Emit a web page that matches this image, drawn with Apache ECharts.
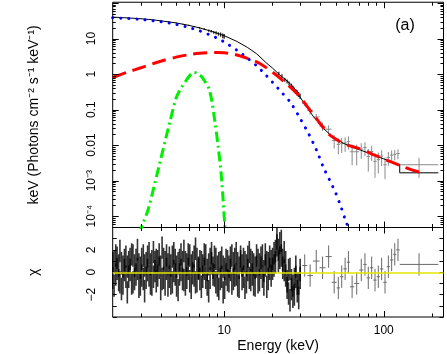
<!DOCTYPE html>
<html><head><meta charset="utf-8">
<script src="https://cdn.jsdelivr.net/npm/echarts@6/dist/echarts.min.js"></script>
<style>html,body{margin:0;padding:0;background:#fff}#c{width:447px;height:354px}</style>
</head><body><div id="c"></div>
<script>
// ---------- data ----------
// model components (E in keV, E*F_E)
const blueE = [2,2.5,3,3.5,4,5,6,7,8,9,10,12,14,16,18,20,23,26,30,34,38,42,46,50,54,58,61];
const blueV = [38.5,36.5,34.5,32,29.8,25,20.5,16.5,13,10.3,8,4.7,2.8,1.7,1.0,0.6,0.3,0.16,0.055,0.02,0.007,0.0023,0.001,0.00045,0.00018,0.00007,0.00004];
const redE = [2,2.5,3,3.5,4,5,6,7,8,9,10,11,12,14,16,18,20,22,25,28,30,33,36,40,45,53,60,68,78,86,104,126,150,175];
const redV = [0.8,1.15,1.5,1.9,2.3,3.0,3.5,3.85,4.0,4.05,3.95,3.75,3.45,2.75,2.2,1.6,1.15,0.82,0.5,0.31,0.22,0.125,0.075,0.04,0.021,0.0126,0.0098,0.0084,0.0066,0.0054,0.0038,0.0027,0.002,0.00165];
const greenE = [2.95,3.04,3.33,3.95,4.57,5.03,5.4,5.8,6.1,6.46,6.8,7.2,7.57,8.0,8.34,8.74,9.17,9.64,10.1,10.3];
const greenV = [3e-5,5e-5,1.5e-4,3.2e-3,0.046,0.23,0.42,0.68,0.92,1.12,1.02,0.85,0.62,0.4,0.19,0.046,0.009,0.00107,5e-5,2e-5];
const modelE = [2,2.5,3,3.5,4,5,6,7,8,9,10,12,14,16,18.5,20,22.3,24,25.8,28,29.8,32.8,36.2,41.7,46,50,55.6,63,70.7,80,90.5,100,112,126,126,220];
const modelV = [40,38,36,34,31.5,27.5,23.5,20,16.8,14.2,12,8.3,5.6,3.7,2.0,1.5,0.94,0.72,0.55,0.36,0.23,0.12,0.064,0.03,0.02,0.0155,0.0114,0.0088,0.0074,0.006,0.0048,0.0041,0.0034,0.0028,0.00166,0.00166];

// low-energy spectral points (top panel)
const lowDE = [2.0,2.5,3,3.5,4,4.5,5,5.5,6,6.5,7,7.5,8,8.3,8.6,8.9,9.2,9.5,9.8,10.0,22,23,24,24.8,25.5,26.4,27,27.5,28.1,28.7,29.3,29.9];
const lowDV = [40.5,38,36,34,31.5,29.5,27.5,25.5,23.5,21.8,20,18.5,16.8,16,15,14.5,13.5,13,12,11.6,1.05,0.88,0.7,0.62,0.55,0.47,0.41,0.37,0.33,0.3,0.27,0.24];
const lowDErr = [0.5,0.5,0.5,0.5,0.6,0.6,0.7,0.7,0.8,0.9,1,1.1,1.2,1.3,1.4,1.5,1.6,1.7,1.8,1.8,0.12,0.1,0.09,0.08,0.07,0.06,0.06,0.05,0.05,0.05,0.045,0.04];

// high-energy bins (top panel + residuals)
const highLo = [30.8,33.2,36.0,39.6,43.2,47.2,50.7,53.2,55.9,58.7,61.5,65.3,70.2,74.5,78.1,82.0,86.1,90.3,94.7,99.4,104.4,109.5,114.8,119.8,126];
const highHi = [33.2,36.0,39.6,43.2,47.2,50.7,53.2,55.9,58.7,61.5,65.3,70.2,74.5,78.1,82.0,86.1,90.3,94.7,99.4,104.4,109.5,114.8,119.8,126,220];
const highFlux = [0.15,0.093,0.062,0.034,0.028,0.0135,0.0105,0.011,0.0115,0.0125,0.0065,0.0065,0.0077,0.0085,0.0048,0.0066,0.0035,0.0039,0.0049,0.0028,0.0045,0.0052,0.0055,0.0058,0.0028];
const highErr = [0.025,0.02,0.014,0.009,0.008,0.0055,0.005,0.005,0.005,0.005,0.0038,0.0038,0.0036,0.0036,0.003,0.003,0.0023,0.0023,0.0023,0.0017,0.0019,0.0019,0.0018,0.0018,0.0016];
const highChi = [0.6,-0.3,1.0,0.4,1.4,-0.9,-1.4,-0.4,0.3,0.9,-1.3,-1.0,0.2,0.7,-0.5,0.4,-0.7,-0.4,0.3,-0.9,0.5,1.1,1.6,2.0,0.7];

// dense residuals 2-30 keV (delta chi, error = 1), two interleaved sets
const resE = [2.00,2.04,2.09,2.13,2.18,2.22,2.27,2.32,2.37,2.42,
 2.47,2.52,2.57,2.63,2.68,2.74,2.80,2.86,2.92,2.98,
 3.04,3.11,3.17,3.24,3.31,3.38,3.45,3.52,3.60,3.68,
 3.75,3.83,3.91,4.00,4.08,4.17,4.26,4.35,4.44,4.53,
 4.63,4.73,4.83,4.93,5.03,5.14,5.25,5.36,5.48,5.59,
 5.71,5.83,5.95,6.08,6.21,6.34,6.48,6.61,6.75,6.90,
 7.04,7.19,7.34,7.50,7.66,7.82,7.99,8.16,8.33,8.51,
 8.69,8.87,9.06,9.25,9.45,9.65,9.85,10.06,10.27,10.49,
 10.71,10.94,11.17,11.41,11.65,11.89,12.15,12.40,12.67,12.94,
 13.21,13.49,13.78,14.07,14.37,14.67,14.98,15.30,15.62,15.96,
 16.30,16.64,17.00,17.36,17.73,18.10,18.49,18.88,19.28,19.69,
 20.10,20.53,20.96,21.41,21.86,22.32,22.80,23.28,23.77,24.28,
 24.79,25.32,25.85,26.40,26.96,27.53,28.12,28.71,29.32,29.94];
const resChi = [0.8,-1.2,1.5,0.3,-0.7,1.9,-1.5,0.5,1.1,-0.4,
 -1.8,0.9,0.2,1.6,-0.9,0.6,-0.2,2.0,-1.3,0.4,
 1.2,-0.6,-1.7,0.8,1.4,-0.3,0.7,-1.1,1.8,0.1,
 -0.8,1.0,0.4,-1.5,2.2,-0.5,0.9,0.3,-1.2,1.3,
 0.6,-0.9,1.7,-0.2,0.5,-1.6,1.1,0.2,-0.6,1.9,
 -1.1,0.7,0.3,1.5,-1.4,0.9,-0.3,2.1,-0.8,0.4,
 1.0,-1.3,0.6,1.6,-0.5,0.2,-1.7,1.2,0.8,-0.2,
 1.4,-0.9,0.5,-1.5,0.9,-0.4,-1.8,0.3,1.1,-0.7,
 0.5,1.3,-1.0,0.8,-0.3,1.7,-1.2,0.4,1.0,-0.6,
 1.2,-1.4,0.6,0.2,1.8,-0.7,0.9,-1.1,0.4,1.5,
 -0.9,0.7,1.3,-0.4,0.1,1.6,-1.3,0.8,0.3,1.0,
 1.2,0.6,1.9,2.4,1.0,2.6,1.5,0.4,1.8,-0.3,
 -0.8,-1.9,0.3,-1.5,-2.2,-0.6,0.5,-1.7,-1.0,0.2];
const resChi2 = [-0.5,0.9,-0.2,1.3,0.6,-0.9,0.8,-1.0,0.2,1.4,
 0.5,-0.4,1.2,-1.0,1.5,-0.6,1.1,0.3,0.7,-1.1,
 -0.3,1.5,0.6,-0.5,0.2,1.7,-1.0,1.0,-0.4,0.9,
 1.1,-0.3,1.6,0.5,-0.6,1.2,-1.1,1.5,0.7,-0.4,
 -1.0,1.4,0.1,1.1,-1.2,0.8,-0.2,1.6,0.9,-0.7,
 0.9,-0.5,1.6,-0.8,0.6,-0.1,1.4,-0.9,1.2,0.3,
 -0.6,0.9,-0.4,0.3,1.5,-1.1,0.7,-0.5,1.7,0.4,
 -0.3,1.2,-1.2,0.8,-0.6,1.3,0.5,-1.4,-0.2,1.0,
 -0.8,0.2,1.5,-0.6,1.2,-0.2,0.8,-1.3,1.4,0.6,
 -0.4,0.9,-0.9,1.4,-0.5,1.1,-0.2,0.7,-1.2,0.5,
 1.1,-0.7,0.4,1.5,-1.1,0.6,0.9,-0.6,1.4,-0.3,
 0.3,1.7,0.9,3.0,2.0,1.3,2.8,1.1,0.2,0.9,
 -1.4,0.2,-2.5,-0.7,-1.2,-2.0,-0.4,-1.0,-2.3,-0.5];

// ticks
const xMajorTicks = [10, 100];
const xMinorTicks = [3,4,5,6,7,8,9,20,30,40,50,60,70,80,90,200];
const yMajorTop = [1e-4,1e-3,0.01,0.1,1,10,100];
const yMantissas = [2,3,4,5,6,7,8,9];
const yDecades = [1e-5,1e-4,1e-3,0.01,0.1,1,10];
const X_MIN = 2, X_MAX = 237, Y_MIN = 4.8e-5, Y_MAX = 105;

// ---------- chart ----------
const FONT = 'Liberation Sans, Arial, Helvetica, sans-serif';
const pair = (xs, ys) => xs.map((x, i) => [x, ys[i]]);

function errRender(color, width) {
  return function (params, api) {
    const lo = api.value(0), hi = api.value(1), v = api.value(2), vlo = api.value(3), vhi = api.value(4);
    const xc = Math.sqrt(lo * hi);
    const t = api.coord([xc, vhi]), d = api.coord([xc, vlo]);
    const ch = [{type: 'line', shape: {x1: t[0], y1: t[1], x2: d[0], y2: d[1]}, style: {stroke: color, lineWidth: width}}];
    if (hi > lo) {
      const a = api.coord([lo, v]), b = api.coord([hi, v]);
      ch.push({type: 'line', shape: {x1: a[0], y1: a[1], x2: b[0], y2: b[1]}, style: {stroke: color, lineWidth: width}});
    }
    return {type: 'group', children: ch};
  };
}

function xTicks(gi, yi, yRef) {
  const data = xMajorTicks.map(v => [v, yRef, 1]).concat(xMinorTicks.map(v => [v, yRef, 0]));
  return {
    type: 'custom', xAxisIndex: gi, yAxisIndex: yi, data, encode: {x: 0, y: 1}, silent: true, z: 20,
    renderItem(params, api) {
      const cs = params.coordSys;
      const x = Math.round(api.coord([api.value(0), api.value(1)])[0]) + 0.5;
      const L = api.value(2) ? 6 : 3.5;
      const b = cs.y + cs.height;
      return {type: 'group', children: [
        {type: 'line', shape: {x1: x, y1: cs.y, x2: x, y2: cs.y + L}, style: {stroke: '#000', lineWidth: 1}},
        {type: 'line', shape: {x1: x, y1: b, x2: x, y2: b - L}, style: {stroke: '#000', lineWidth: 1}}
      ]};
    }
  };
}

const yMinorTop = [];
yDecades.forEach(d => yMantissas.forEach(m => { const v = d * m; if (v > Y_MIN && v < Y_MAX) yMinorTop.push(v); }));

const yTicksTop = {
  type: 'custom', xAxisIndex: 0, yAxisIndex: 0, silent: true, z: 20, encode: {x: 0, y: 1},
  data: yMajorTop.filter(v => v < Y_MAX).map(v => [10, v, 1]).concat(yMinorTop.map(v => [10, v, 0])),
  renderItem(params, api) {
    const cs = params.coordSys;
    const y = Math.round(api.coord([api.value(0), api.value(1)])[1]) + 0.5;
    const L = api.value(2) ? 6 : 3;
    const r = cs.x + cs.width;
    return {type: 'group', children: [
      {type: 'line', shape: {x1: cs.x, y1: y, x2: cs.x + L, y2: y}, style: {stroke: '#000', lineWidth: 1}},
      {type: 'line', shape: {x1: r, y1: y, x2: r - L, y2: y}, style: {stroke: '#000', lineWidth: 1}}
    ]};
  }
};

function logLabel(v) {
  const e = Math.round(Math.log10(v));
  if (Math.abs(v / Math.pow(10, e) - 1) > 1e-6) return '';
  const map = {'1': '10', '0': '1', '-1': '0.1', '-2': '0.01', '-3': '10\u207B\u00B3', '-4': '10\u207B\u2074'};
  return map[String(e)] || '';
}

const chart = echarts.init(document.getElementById('c'), null, {renderer: 'canvas'});
chart.setOption({
  animation: false,
  backgroundColor: '#fff',
  textStyle: {fontFamily: FONT, color: '#000'},
  grid: [
    {left: 112.7, top: 2, width: 330.8, height: 225.5, show: true, borderColor: '#000', borderWidth: 1},
    {left: 112.7, top: 227.5, width: 330.8, height: 89.5, show: true, borderColor: '#000', borderWidth: 1}
  ],
  xAxis: [
    {gridIndex: 0, type: 'log', logBase: 10, min: X_MIN, max: X_MAX,
      axisLine: {show: false, onZero: false}, axisTick: {show: false}, axisLabel: {show: false}, splitLine: {show: false}},
    {gridIndex: 1, type: 'log', logBase: 10, min: X_MIN, max: X_MAX,
      axisLine: {show: false, onZero: false}, axisTick: {show: false}, splitLine: {show: false},
      axisLabel: {show: true, margin: 8, fontSize: 12, color: '#000', fontFamily: FONT, showMinLabel: false, showMaxLabel: false,
        formatter: v => (Math.abs(v - 10) < 1e-6 ? '10' : Math.abs(v - 100) < 1e-6 ? '100' : '')},
      name: 'Energy (keV)', nameLocation: 'middle', nameGap: 22,
      nameTextStyle: {fontSize: 14, color: '#000', fontFamily: FONT}}
  ],
  yAxis: [
    {gridIndex: 0, type: 'log', logBase: 10, min: Y_MIN, max: Y_MAX,
      axisLine: {show: false}, axisTick: {show: false}, splitLine: {show: false},
      axisLabel: {rotate: 90, margin: 15, fontSize: 12, color: '#000', fontFamily: FONT, formatter: logLabel, showMinLabel: false, showMaxLabel: false},
      name: 'keV (Photons cm\u207B\u00B2 s\u207B\u00B9 keV\u207B\u00B9)', nameLocation: 'middle', nameGap: 72,
      nameTextStyle: {fontSize: 14, color: '#000', fontFamily: FONT}},
    {gridIndex: 1, type: 'value', min: -4, max: 4, interval: 1,
      axisLine: {show: false, onZero: false}, axisTick: {show: true, inside: true, length: 4, lineStyle: {color: '#000'}}, splitLine: {show: false},
      axisLabel: {rotate: 90, margin: 15, fontSize: 12, color: '#000', fontFamily: FONT,
        formatter: v => (v === 2 ? '2' : v === 0 ? '0' : v === -2 ? '\u22122' : '')},
      name: '\u03C7', nameLocation: 'middle', nameGap: 72,
      nameTextStyle: {fontSize: 14, color: '#000', fontFamily: FONT}},
    {gridIndex: 1, type: 'value', position: 'right', min: -4, max: 4, interval: 1,
      axisLine: {show: false, onZero: false}, axisTick: {show: true, inside: true, length: 4, lineStyle: {color: '#000'}},
      splitLine: {show: false}, axisLabel: {show: false}}
  ],
  graphic: [{type: 'text', x: 405, y: 25.5, style: {text: '(a)', fontSize: 16, fontFamily: FONT, fill: '#000', align: 'center', verticalAlign: 'middle'}}],
  series: [
    // top-panel data
    {type: 'custom', name: 'data-low', xAxisIndex: 0, yAxisIndex: 0, clip: true, z: 2, encode: {x: [0, 1], y: [2, 3, 4]},
      data: lowDE.map((e, i) => [e, e, lowDV[i], Math.max(lowDV[i] - lowDErr[i], 1e-9), lowDV[i] + lowDErr[i]]),
      renderItem: errRender('rgba(0,0,0,0.85)', 1.3)},
    {type: 'custom', name: 'data-high', xAxisIndex: 0, yAxisIndex: 0, clip: true, z: 2, encode: {x: [0, 1], y: [2, 3, 4]},
      data: highLo.map((lo, i) => [lo, highHi[i], highFlux[i], Math.max(highFlux[i] - highErr[i], 1e-9), highFlux[i] + highErr[i]]),
      renderItem: errRender('#8a8a8a', 1)},
    // model and components
    {type: 'line', name: 'model', xAxisIndex: 0, yAxisIndex: 0, data: pair(modelE, modelV), showSymbol: false, clip: true, z: 3,
      lineStyle: {color: '#000', width: 1}},
    {type: 'line', name: 'comp1', xAxisIndex: 0, yAxisIndex: 0, data: pair(blueE, blueV), showSymbol: false, clip: true, smooth: 0.3, z: 4,
      lineStyle: {color: '#0000ff', width: 3, type: [0.1, 8], cap: 'round'}},
    {type: 'line', name: 'comp2', xAxisIndex: 0, yAxisIndex: 0, data: pair(redE, redV), showSymbol: false, clip: true, smooth: 0.3, z: 4,
      lineStyle: {color: '#ff0000', width: 3, type: [14, 7]}},
    {type: 'line', name: 'line', xAxisIndex: 0, yAxisIndex: 0, data: pair(greenE, greenV), showSymbol: false, clip: true, smooth: 0.3, z: 4,
      lineStyle: {color: '#00ee00', width: 3, type: [10, 4, 2, 4]}},
    // residuals
    {type: 'custom', name: 'res-low', xAxisIndex: 1, yAxisIndex: 1, clip: true, z: 2, encode: {x: [0, 1], y: [2, 3, 4]},
      data: resE.map((e, i) => [e, e, resChi[i], resChi[i] - 1, resChi[i] + 1]),
      renderItem: errRender('rgba(0,0,0,0.8)', 1.6)},
    {type: 'custom', name: 'res-low-2', xAxisIndex: 1, yAxisIndex: 1, clip: true, z: 2, encode: {x: [0, 1], y: [2, 3, 4]},
      data: resE.map((e, i) => [e, e, resChi2[i], resChi2[i] - 1, resChi2[i] + 1]),
      renderItem: errRender('rgba(0,0,0,0.8)', 1.6)},
    {type: 'custom', name: 'res-high', xAxisIndex: 1, yAxisIndex: 1, clip: true, z: 3, encode: {x: [0, 1], y: [2, 3, 4]},
      data: highLo.map((lo, i) => [lo, highHi[i], highChi[i], highChi[i] - 1, highChi[i] + 1]),
      renderItem: errRender('#6a6a6a', 1),
      markLine: {silent: true, symbol: 'none', label: {show: false}, z: 10,
        lineStyle: {color: '#e6e600', width: 1.5, type: 'solid'}, data: [{yAxis: 0}]}},
    // tick marks
    xTicks(0, 0, 1),
    xTicks(1, 1, 0),
    yTicksTop
  ]
});
</script></body></html>
